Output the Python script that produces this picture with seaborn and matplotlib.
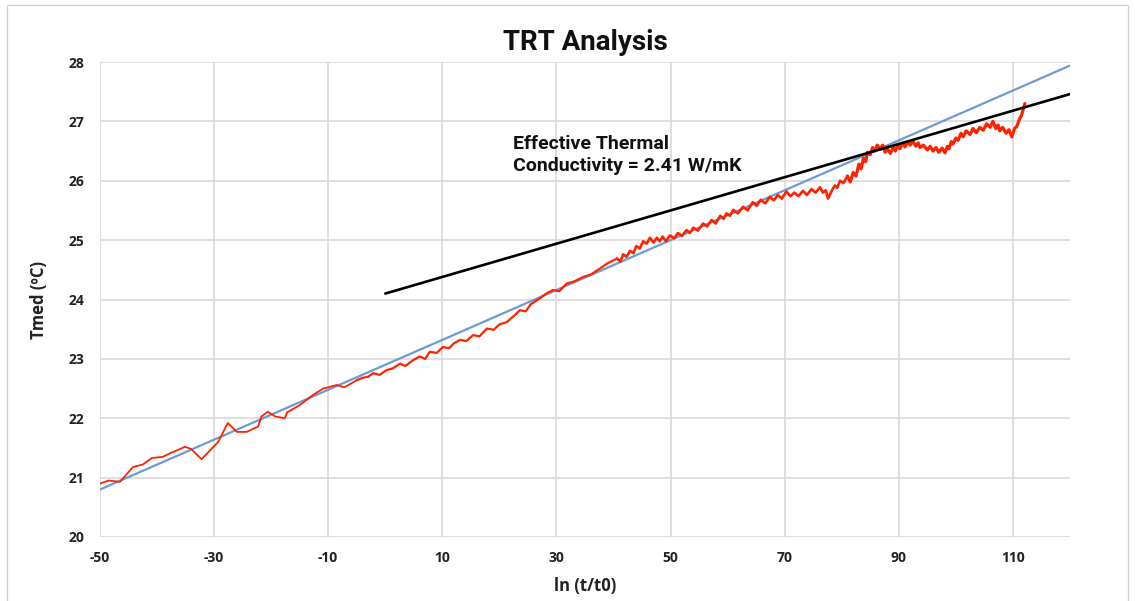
import numpy as np
import pandas as pd
import matplotlib
matplotlib.use("Agg")
import matplotlib.pyplot as plt
import seaborn as sns
from matplotlib.patches import Rectangle

red_x = [-50, -48.5, -46.5, -44.2, -42.5, -40.9, -39, -37.5, -36.5, -35.1, -34, -32.2,
         -30.7, -29.3, -27.6, -26, -24.3, -22.3, -21.7, -20.6, -19.3, -17.6, -17.2,
         -15, -12.7, -10.9, -8.5, -7.2, -5,
         -4, -3, -2.1, -1, 0.2, 1.3, 2.6, 3.5, 4.9, 6, 7, 7.8, 9, 10.1, 11.2, 12,
         13.1, 14.2, 15.4, 16.5, 17.8, 19, 20, 21.3, 22.5, 23.6, 24.6, 25.5, 26.3,
         27.1, 28.2, 29.4, 30.5, 31.8, 33, 34.7, 36, 37.6, 38.8, 40.6,
         41.2, 41.7, 42.3, 42.9, 43.5, 44, 44.6, 45.2, 45.8, 46.4, 47, 47.6, 48.1, 48.6,
         49.2, 49.9, 50.6, 51.3, 52, 52.8, 53.4, 54, 54.8, 55.7, 56.4, 57.2, 57.9, 58.7,
         59.3, 59.8, 60.4, 61, 61.8, 62.7, 63.5, 64.4, 65.1, 65.8, 66.6, 67.4, 68.1, 68.8,
         69.5, 70.3, 71, 71.7, 72.4, 73.2, 73.9, 74.7, 75.4, 76.2, 76.7, 77.2, 77.6, 77.9,
         78.4, 78.8, 79.2, 79.7, 80.3, 81,
         81.5, 82, 82.5, 83, 83.4, 83.8, 84.2, 84.5, 85, 85.4, 85.8, 86.2, 86.7, 87.2,
         87.6, 88, 88.5, 89, 89.4, 89.8, 90.2, 90.7, 91.1, 91.6, 92, 92.5, 93, 93.4,
         93.7, 94.3, 95, 95.5, 96, 96.5, 97, 97.6, 98.1, 98.5, 98.8, 99.2, 99.5, 100,
         100.4, 100.9, 101.3, 101.8, 102.5, 103, 103.6, 104.2, 104.8, 105.4, 106, 106.5,
         107, 107.4, 107.7, 108.2, 108.8, 109.3, 109.8, 110.3, 110.7, 111.2, 111.5,
         111.8, 112.1]
red_y = [20.90, 20.95, 20.93, 21.18, 21.22, 21.33, 21.35, 21.42, 21.46, 21.52, 21.48, 21.31,
         21.46, 21.60, 21.92, 21.77, 21.77, 21.86, 22.03, 22.11, 22.03, 22.00, 22.10,
         22.22, 22.39, 22.50, 22.56, 22.52, 22.64,
         22.68, 22.70, 22.76, 22.73, 22.81, 22.84, 22.92, 22.88, 22.98, 23.04, 23.00, 23.12,
         23.10, 23.20, 23.18, 23.26,
         23.32, 23.30, 23.40, 23.38, 23.51, 23.49, 23.58, 23.62, 23.72, 23.82, 23.80, 23.92,
         23.97, 24.02, 24.10, 24.16, 24.14, 24.27, 24.30, 24.38, 24.42, 24.52, 24.60, 24.69,
         24.64, 24.76, 24.72, 24.82, 24.78, 24.90, 24.86, 24.98, 24.94, 25.04, 24.96, 25.04,
         24.98, 25.06, 24.98, 25.08, 25.03, 25.12, 25.07, 25.17, 25.12, 25.21, 25.16, 25.28,
         25.23, 25.34, 25.28, 25.41, 25.36, 25.45, 25.41, 25.51, 25.45, 25.56, 25.50, 25.64,
         25.58, 25.68, 25.62, 25.73, 25.67, 25.76, 25.70, 25.82, 25.74, 25.80, 25.74, 25.83,
         25.76, 25.86, 25.80, 25.89, 25.80, 25.84, 25.70, 25.76, 25.86, 25.92, 25.88, 26.00,
         25.96, 26.08,
         25.98, 26.14, 26.08, 26.28, 26.20, 26.38, 26.32, 26.48, 26.44, 26.56, 26.50, 26.60,
         26.54, 26.60, 26.48, 26.54, 26.46, 26.56, 26.50, 26.60, 26.54, 26.64, 26.57, 26.66,
         26.60, 26.67, 26.58, 26.64, 26.56, 26.60, 26.52, 26.58, 26.50, 26.56, 26.48, 26.55,
         26.47, 26.58, 26.54, 26.66, 26.62, 26.72, 26.68, 26.80, 26.74, 26.84, 26.78, 26.88,
         26.81, 26.90, 26.85, 26.96, 26.90, 27.00, 26.88, 26.94, 26.84, 26.90, 26.80, 26.86,
         26.74, 26.88, 26.92, 27.05, 27.10, 27.20, 27.30]

# Linear fit lines
fit_x = [-50, 120]
fit_y = [20.80, 27.94]
tangent_x = [0, 120]
tangent_y = [24.10, 27.46]

x_ticks = [-50, -30, -10, 10, 30, 50, 70, 90, 110]
y_ticks = [20, 21, 22, 23, 24, 25, 26, 27, 28]

sns.set_theme(style="whitegrid")
plt.rcParams["axes.unicode_minus"] = False

df = pd.DataFrame({"x": red_x, "y": red_y})
# the trace gets noisier (thicker looking) further right
segments = [(-50, -5, 1.3), (-5, 40.6, 1.6), (40.6, 81, 1.9), (81, 113, 2.3)]

fig = plt.figure(figsize=(11.35, 6.01), dpi=100)
ax = fig.add_axes([0.0881, 0.1065, 0.8546, 0.7903])

sns.lineplot(x=fit_x, y=fit_y, ax=ax, color="#6b9bd2", linewidth=1.6)
for lo, hi, lw in segments:
    part = df[(df.x >= lo) & (df.x <= hi)]
    sns.lineplot(data=part, x="x", y="y", ax=ax, color="#ff2200", linewidth=lw,
                 sort=False, estimator=None)
sns.lineplot(x=tangent_x, y=tangent_y, ax=ax, color="black", linewidth=1.9)

ax.set_xlim(-50, 120)
ax.set_ylim(20, 28)
ax.set_xticks(x_ticks)
ax.set_yticks(y_ticks)
for s in ax.spines.values():
    s.set_visible(False)
ax.grid(True, color="#d9d9d9", linewidth=1.2)
ax.tick_params(axis="x", length=0, pad=10)
ax.tick_params(axis="y", length=0, pad=11)
for lab in ax.get_xticklabels() + ax.get_yticklabels():
    lab.set_fontfamily("Open Sans")
    lab.set_fontweight("bold")
    lab.set_fontsize(10)
    lab.set_color("#222222")

ax.set_xlabel("ln (t/t0)", fontfamily="Open Sans", fontweight="bold", fontsize=12,
              labelpad=9, color="#222222")
ax.set_ylabel("Tmed (ºC)", fontfamily="Open Sans", fontweight="bold", fontsize=12,
              labelpad=15, color="#222222")
ax.set_title("TRT Analysis", fontfamily="Roboto", fontweight="bold", fontsize=20,
             pad=9, color="#111111")

ax.text(22.4, 26.43, "Effective Thermal\nConductivity = 2.41 W/mK",
        fontfamily="Roboto", fontweight="bold", fontsize=14,
        ha="left", va="center", linespacing=1.25, color="#111111")

# thin frame round the whole picture
fig.patches.append(Rectangle((7 / 1135, -0.05), 1121 / 1135, 1.05 - 5 / 601,
                             transform=fig.transFigure, fill=False,
                             edgecolor="#d0d0d0", linewidth=1.0))

fig.savefig("out.png", dpi=100)
